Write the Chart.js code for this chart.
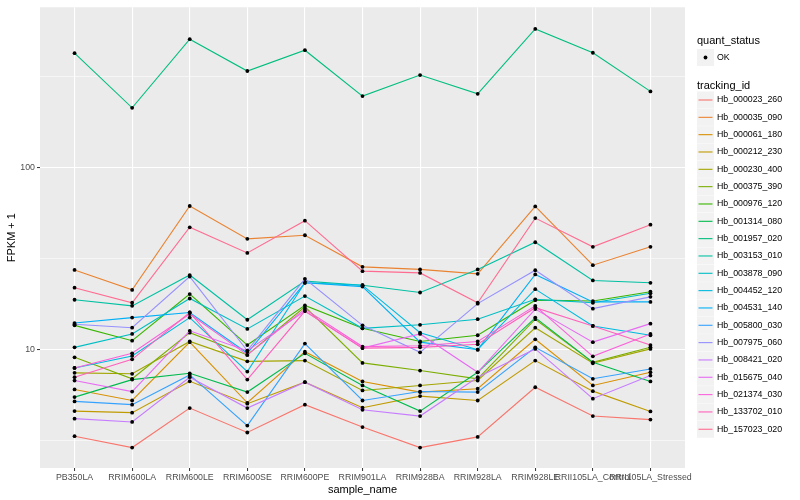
<!DOCTYPE html>
<html>
<head>
<meta charset="utf-8">
<script src="https://cdn.jsdelivr.net/npm/chart.js@4/dist/chart.umd.min.js"></script>
<style>
  html, body { margin: 0; padding: 0; background: #ffffff; }
  #wrap { width: 800px; height: 500px; }
</style>
</head>
<body>
<div id="wrap"><canvas id="fpkm-plot" width="800" height="500"></canvas></div>
<script>
// samples on the x axis
var categories = ['PB350LA', 'RRIM600LA', 'RRIM600LE', 'RRIM600SE', 'RRIM600PE', 'RRIM901LA',
  'RRIM928BA', 'RRIM928LA', 'RRIM928LE', 'RRII105LA_Control', 'RRII105LA_Stressed'];

// FPKM + 1 per gene, one value per sample
var hb_000023_260 = [3.35, 2.90, 4.78, 3.51, 4.99, 3.76, 2.90, 3.32, 6.22, 4.32, 4.13];
var hb_000035_090 = [27.4, 21.3, 61.5, 40.6, 42.5, 28.5, 27.6, 26.1, 61.2, 29.1, 36.7];
var hb_000061_180 = [6.05, 5.26, 11.0, 5.11, 9.75, 6.69, 5.85, 6.10, 11.4, 6.36, 7.51];
var hb_000212_230 = [4.60, 4.51, 6.71, 5.05, 6.63, 4.80, 5.56, 5.26, 8.71, 5.92, 4.58];
var hb_000230_400 = [7.46, 7.37, 11.1, 8.63, 8.71, 5.97, 6.36, 6.77, 13.2, 8.42, 10.1];
var hb_000375_390 = [9.08, 6.92, 12.4, 9.36, 17.2, 8.46, 7.68, 6.92, 14.7, 8.52, 10.3];
var hb_000976_120 = [13.6, 11.2, 20.2, 10.6, 17.5, 13.1, 11.1, 12.0, 18.7, 18.5, 20.8];
var hb_001314_080 = [5.49, 6.85, 7.42, 5.85, 9.55, 6.36, 4.60, 7.51, 15.0, 8.52, 6.69];
var hb_001957_020 = [425, 213, 507, 339, 441, 247, 322, 254, 577, 427, 262];
var hb_003153_010 = [18.8, 17.4, 25.7, 14.6, 23.8, 22.6, 20.6, 27.6, 38.9, 24.0, 23.3];
var hb_003878_090 = [10.3, 12.2, 19.1, 13.0, 19.7, 13.1, 13.7, 14.7, 18.9, 18.1, 20.4];
var hb_004452_120 = [7.94, 9.24, 15.0, 7.58, 23.3, 22.6, 12.4, 10.0, 21.5, 13.5, 12.0];
var hb_004531_140 = [14.0, 15.0, 16.0, 9.55, 23.3, 22.2, 11.0, 10.0, 25.9, 18.3, 18.3];
var hb_005800_030 = [5.20, 4.99, 7.27, 3.83, 10.8, 5.26, 5.89, 5.85, 10.3, 6.92, 7.84];
var hb_007975_060 = [13.8, 13.2, 25.2, 9.87, 24.5, 13.6, 9.67, 17.9, 27.3, 16.8, 19.5];
var hb_008421_020 = [4.18, 4.01, 7.06, 4.78, 6.63, 4.68, 4.32, 7.06, 10.1, 5.38, 7.21];
var hb_015675_040 = [6.77, 5.89, 12.7, 9.87, 16.3, 10.2, 12.2, 7.51, 16.7, 11.0, 13.9];
var hb_021374_030 = [7.94, 9.55, 15.7, 9.36, 16.7, 10.4, 10.5, 11.1, 17.4, 9.19, 12.2];
var hb_133702_010 = [7.06, 8.85, 16.0, 6.85, 16.3, 10.2, 10.3, 10.7, 17.0, 13.5, 10.6];
var hb_157023_020 = [21.9, 18.1, 47.0, 34.0, 51.1, 27.0, 26.4, 18.1, 52.8, 36.7, 48.6];

var trackingIds = ['Hb_000023_260', 'Hb_000035_090', 'Hb_000061_180', 'Hb_000212_230', 'Hb_000230_400',
  'Hb_000375_390', 'Hb_000976_120', 'Hb_001314_080', 'Hb_001957_020', 'Hb_003153_010',
  'Hb_003878_090', 'Hb_004452_120', 'Hb_004531_140', 'Hb_005800_030', 'Hb_007975_060',
  'Hb_008421_020', 'Hb_015675_040', 'Hb_021374_030', 'Hb_133702_010', 'Hb_157023_020'];
var seriesValues = [hb_000023_260, hb_000035_090, hb_000061_180, hb_000212_230, hb_000230_400,
  hb_000375_390, hb_000976_120, hb_001314_080, hb_001957_020, hb_003153_010,
  hb_003878_090, hb_004452_120, hb_004531_140, hb_005800_030, hb_007975_060,
  hb_008421_020, hb_015675_040, hb_021374_030, hb_133702_010, hb_157023_020];

// y grid: labelled majors and unlabelled minors
var yLabelTicks = [10, 100];
var yGridTicks = [3.1623, 10, 31.623, 100, 316.23];

// ggplot hue palette, 20 groups
var palette = ['#F8766D', '#EA8331', '#D89000', '#C09B00', '#A3A500', '#7CAE00', '#39B600', '#00BB4E',
  '#00BF7D', '#00C1A3', '#00BFC4', '#00BAE0', '#00B0F6', '#35A2FF', '#9590FF', '#C77CFF',
  '#E76BF3', '#FA62DB', '#FF62BC', '#FF6C91'];

var FONT = '"Liberation Sans", Arial, sans-serif';

var datasets = trackingIds.map(function (id, i) {
  return {
    label: id,
    data: categories.map(function (c, j) { return { x: j, y: seriesValues[i][j] }; }),
    borderColor: palette[i],
    backgroundColor: '#000000',
    borderWidth: 1.1,
    pointRadius: 1.9,
    pointBorderWidth: 0,
    pointBackgroundColor: '#000000',
    order: trackingIds.length - i
  };
});

var panelBg = {
  id: 'panelBg',
  beforeDraw: function (chart) {
    var a = chart.chartArea, ctx = chart.ctx;
    ctx.save();
    ctx.fillStyle = '#EBEBEB';
    ctx.fillRect(a.left, a.top, a.right - a.left, a.bottom - a.top);
    ctx.restore();
  }
};

var ggLegend = {
  id: 'ggLegend',
  afterDraw: function (chart) {
    var ctx = chart.ctx;
    var x0 = 697;
    ctx.save();
    ctx.textAlign = 'left';
    ctx.textBaseline = 'middle';
    ctx.fillStyle = '#000000';
    ctx.font = '11px ' + FONT;
    ctx.fillText('quant_status', x0, 41);
    ctx.fillStyle = '#F2F2F2';
    ctx.fillRect(x0, 49, 17, 17);
    ctx.fillStyle = '#000000';
    ctx.beginPath();
    ctx.arc(x0 + 8.5, 57.5, 1.9, 0, Math.PI * 2);
    ctx.fill();
    ctx.font = '8.8px ' + FONT;
    ctx.fillText('OK', x0 + 20, 57.5);

    ctx.font = '11px ' + FONT;
    ctx.fillText('tracking_id', x0, 86);
    chart.data.datasets.forEach(function (ds, i) {
      var y = 100 + i * 17.33;
      ctx.fillStyle = '#F2F2F2';
      ctx.fillRect(x0, y - 8.5, 17, 17);
      ctx.strokeStyle = ds.borderColor;
      ctx.lineWidth = 1.1;
      ctx.beginPath();
      ctx.moveTo(x0 + 1.5, y);
      ctx.lineTo(x0 + 15.5, y);
      ctx.stroke();
      ctx.fillStyle = '#000000';
      ctx.font = '8.8px ' + FONT;
      ctx.fillText(ds.label, x0 + 20, y);
    });
    ctx.restore();
  }
};

var chrt = document.getElementById('fpkm-plot').getContext('2d');
var chartId = new Chart(chrt, {
  type: 'line',
  data: { datasets: datasets },
  plugins: [panelBg, ggLegend],
  options: {
    responsive: false,
    animation: false,
    devicePixelRatio: 1,
    layout: { padding: { top: 5, right: 115, bottom: 0, left: 0 } },
    plugins: {
      legend: { display: false },
      tooltip: { enabled: false }
    },
    elements: { line: { tension: 0 } },
    scales: {
      x: {
        type: 'linear',
        min: -0.6,
        max: 10.6,
        afterBuildTicks: function (s) {
          s.ticks = categories.map(function (c, i) { return { value: i }; });
        },
        afterFit: function (s) { s.height = 32; },
        border: { display: false },
        grid: { color: '#FFFFFF', lineWidth: 1.1, tickColor: '#333333', tickLength: 3, tickWidth: 1 },
        ticks: {
          autoSkip: false,
          maxRotation: 0,
          minRotation: 0,
          padding: 1,
          color: '#4D4D4D',
          font: { family: FONT, size: 8.8 },
          callback: function (v) { return categories[v]; }
        },
        title: {
          display: true,
          text: 'sample_name',
          color: '#000000',
          font: { family: FONT, size: 11 },
          padding: { top: 0, bottom: 3 }
        }
      },
      y: {
        type: 'logarithmic',
        min: 2.24,
        max: 759,
        afterBuildTicks: function (s) {
          s.ticks = yGridTicks.map(function (v) { return { value: v }; });
        },
        afterFit: function (s) { s.width = 40; },
        border: { display: false },
        grid: {
          color: '#FFFFFF',
          lineWidth: function (c) { return c.tick && yLabelTicks.indexOf(c.tick.value) >= 0 ? 1.1 : 0.55; },
          tickColor: function (c) { return c.tick && yLabelTicks.indexOf(c.tick.value) >= 0 ? '#333333' : 'rgba(0,0,0,0)'; },
          tickLength: 3,
          tickWidth: 1
        },
        ticks: {
          padding: 2,
          color: '#4D4D4D',
          font: { family: FONT, size: 8.8 },
          callback: function (v) { return yLabelTicks.indexOf(v) >= 0 ? String(v) : ''; }
        },
        title: {
          display: true,
          text: 'FPKM + 1',
          color: '#000000',
          font: { family: FONT, size: 11 },
          padding: { top: 5, bottom: 0 }
        }
      }
    }
  }
});
</script>
</body>
</html>
